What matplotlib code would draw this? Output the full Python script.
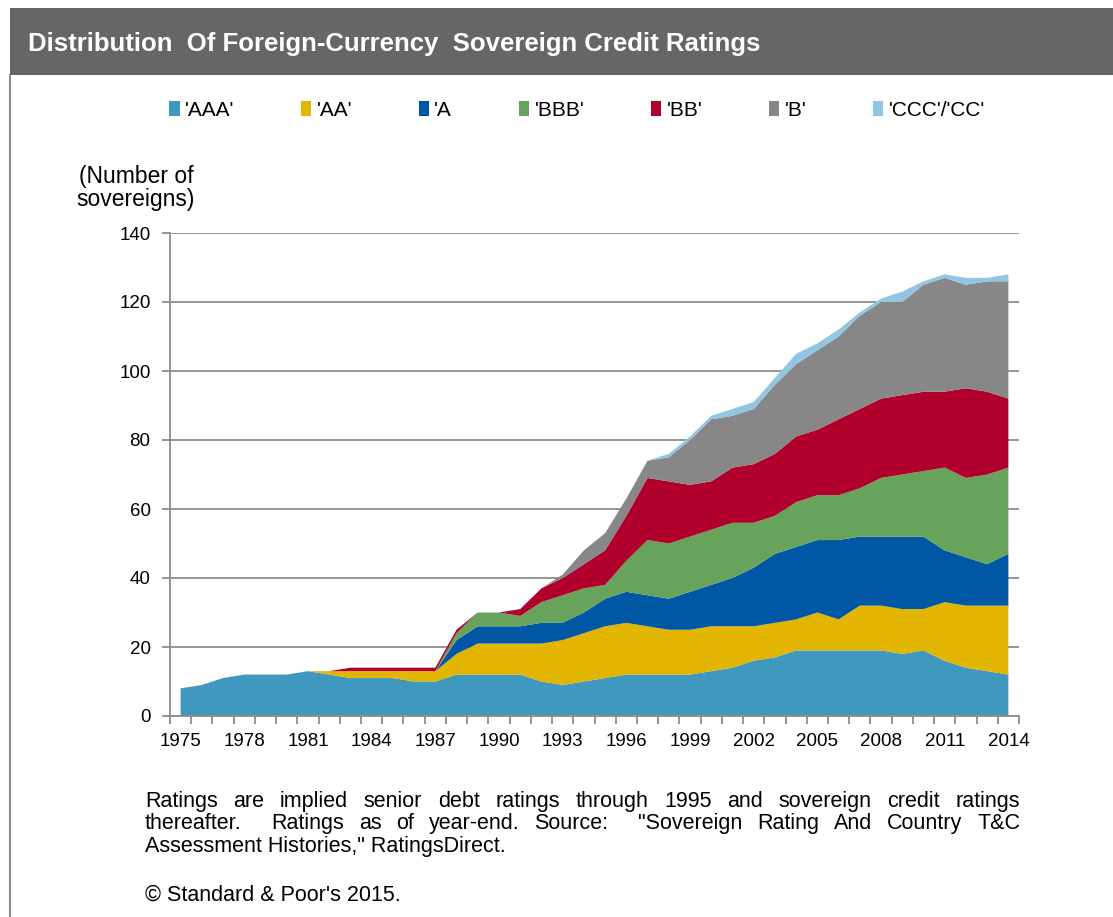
import matplotlib
matplotlib.use('Agg')
import matplotlib.pyplot as plt
from matplotlib.patches import Rectangle
from matplotlib.lines import Line2D
import numpy as np

plt.rcParams['font.family'] = ['Liberation Sans', 'DejaVu Sans']

# data (number of sovereigns per rating, year-end)
years = list(range(1975, 2015))
aaa = [8, 9, 11, 12, 12, 12, 13, 12, 11, 11, 11, 10, 10, 12, 12, 12, 12, 10, 9, 10,
       11, 12, 12, 12, 12, 13, 14, 16, 17, 19, 19, 19, 19, 19, 18, 19, 16, 14, 13, 12]
aa = [0, 0, 0, 0, 0, 0, 0, 1, 2, 2, 2, 3, 3, 6, 9, 9, 9, 11, 13, 14,
      15, 15, 14, 13, 13, 13, 12, 10, 10, 9, 11, 9, 13, 13, 13, 12, 17, 18, 19, 20]
a = [0, 0, 0, 0, 0, 0, 0, 0, 0, 0, 0, 0, 0, 4, 5, 5, 5, 6, 5, 6,
     8, 9, 9, 9, 11, 12, 14, 17, 20, 21, 21, 23, 20, 20, 21, 21, 15, 14, 12, 15]
bbb = [0, 0, 0, 0, 0, 0, 0, 0, 0, 0, 0, 0, 0, 2, 4, 4, 3, 6, 8, 7,
       4, 9, 16, 16, 16, 16, 16, 13, 11, 13, 13, 13, 14, 17, 18, 19, 24, 23, 26, 25]
bb = [0, 0, 0, 0, 0, 0, 0, 0, 1, 1, 1, 1, 1, 1, 0, 0, 2, 4, 5, 7,
      10, 13, 18, 18, 15, 14, 16, 17, 18, 19, 19, 22, 23, 23, 23, 23, 22, 26, 24, 20]
b = [0, 0, 0, 0, 0, 0, 0, 0, 0, 0, 0, 0, 0, 0, 0, 0, 0, 0, 1, 4,
     5, 5, 5, 7, 13, 18, 15, 16, 20, 21, 23, 24, 27, 28, 27, 31, 33, 30, 32, 34]
ccc = [0, 0, 0, 0, 0, 0, 0, 0, 0, 0, 0, 0, 0, 0, 0, 0, 0, 0, 0, 0,
       0, 0, 0, 1, 1, 1, 2, 2, 2, 3, 2, 2, 1, 1, 3, 1, 1, 2, 1, 2]

labels = ["'AAA'", "'AA'", "'A", "'BBB'", "'BB'", "'B'", "'CCC'/'CC'"]
colors = ['#4198be', '#e2b500', '#0058a4', '#67a35b', '#b2002d', '#878787', '#90c6e4']

W, H = 1113, 917
def px(x, y):
    return x / W, 1 - y / H

fig = plt.figure(figsize=(W / 100, H / 100), dpi=100)

# title bar
fig.patches.append(Rectangle(px(10, 75), (W - 10) / W, 67 / H, transform=fig.transFigure,
                             facecolor='#666666', edgecolor='none'))
fig.lines.append(Line2D([10 / W, 10 / W], [0, 1 - 75 / H], transform=fig.transFigure,
                        color='#8c8c8c', lw=1.5))
fig.text(*px(28, 44), 'Distribution  Of Foreign-Currency  Sovereign Credit Ratings',
         color='white', fontsize=18.5, fontweight='bold', va='center', ha='left')

ax = fig.add_axes([170 / W, (H - 716) / H, (1019 - 170) / W, (716 - 233) / H])
ax.stackplot(years, aaa, aa, a, bbb, bb, b, ccc, colors=colors, labels=labels, lw=0)
ax.set_xlim(1974.5, 2014.5)
ax.set_ylim(0, 140)
ax.set_yticks(range(0, 141, 20))
ax.set_xticks(range(1975, 2015, 3))
ax.set_xticks(np.arange(1974.5, 2015, 1), minor=True)
ax.set_axisbelow(True)
ax.yaxis.grid(True, color='#8c8c8c', lw=1.3)
for s in ['top', 'right']:
    ax.spines[s].set_visible(False)
for s in ['left', 'bottom']:
    ax.spines[s].set_color('#8c8c8c')
    ax.spines[s].set_linewidth(1.3)
ax.tick_params(axis='y', length=6, width=1.3, color='#8c8c8c', labelsize=13.5, pad=8)
ax.tick_params(axis='x', which='major', length=0, labelsize=13.5, pad=12)
ax.tick_params(axis='x', which='minor', length=6, width=1.3, color='#8c8c8c')

fig.text(*px(136, 188), '(Number of\nsovereigns)', fontsize=16.5, ha='center', va='center',
         linespacing=1.05)

# legend row
handles = [Rectangle((0, 0), 1, 1, facecolor=c) for c in colors]
leg = fig.legend(handles, labels, loc='center', bbox_to_anchor=px(577, 110), ncol=7,
                 frameon=False, fontsize=15, handlelength=0.5, handleheight=0.75,
                 handletextpad=0.25, columnspacing=3.2)

# footnote, first two lines justified
fs = 15.5
r = fig.canvas.get_renderer()
def justify(line, y, x0=145, x1=1020):
    words = line.split(' ')
    texts = [fig.text(0, 0, w, fontsize=fs, va='baseline') for w in words]
    widths = [t.get_window_extent(r).width for t in texts]
    gap = (x1 - x0 - sum(widths)) / (len(words) - 1)
    x = x0
    for t, w in zip(texts, widths):
        t.set_position(px(x, y))
        x += w + gap

justify('Ratings are implied senior debt ratings through 1995 and sovereign credit ratings', 807)
justify('thereafter.  Ratings as of year-end. Source:  "Sovereign Rating And Country T&C', 829)
fig.text(*px(145, 852), 'Assessment Histories," RatingsDirect.', fontsize=fs, va='baseline')
fig.text(*px(145, 901), "\u00a9 Standard & Poor's 2015.", fontsize=fs, va='baseline')

fig.savefig('out.png', dpi=100)
